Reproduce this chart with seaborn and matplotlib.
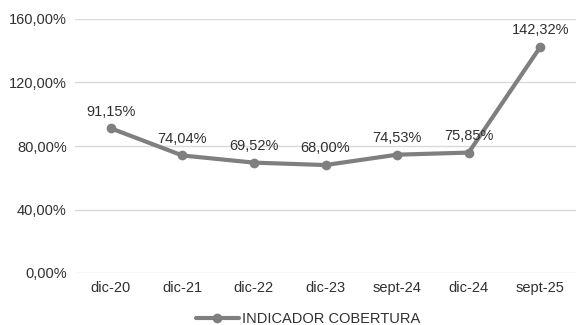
import matplotlib
matplotlib.use("Agg")
import matplotlib.pyplot as plt
import seaborn as sns
import pandas as pd

periodos = ["dic-20", "dic-21", "dic-22", "dic-23", "sept-24", "dic-24", "sept-25"]
cobertura = [91.15, 74.04, 69.52, 68.00, 74.53, 75.85, 142.32]
yticks = [0, 40, 80, 120, 160]

sns.set_theme(style="white")
plt.rcParams["font.family"] = ["Liberation Sans", "DejaVu Sans"]

df = pd.DataFrame({"periodo": periodos, "valor": cobertura, "x": range(len(periodos))})

fig = plt.figure(figsize=(5.82, 3.25), dpi=100)
ax = fig.add_axes([75 / 582, 52 / 325, 501 / 582, 254 / 325])

color = "#7f7f7f"
fs = 10.5
sns.lineplot(data=df, x="x", y="valor", ax=ax, color=color, linewidth=3,
             marker="o", markersize=7, markeredgewidth=0,
             label="INDICADOR COBERTURA")

for xi, v in zip(df["x"], df["valor"]):
    ax.annotate(f"{v:.2f}%".replace(".", ","), (xi, v), xytext=(0, 7),
                textcoords="offset points", ha="center", va="bottom",
                fontsize=fs, color="#303030")

ax.set_xlim(-0.5, len(periodos) - 0.5)
ax.set_ylim(0, 160)
ax.set_yticks(yticks)
ax.set_yticklabels([f"{t:.2f}%".replace(".", ",") for t in yticks])
ax.set_xticks(range(len(periodos)))
ax.set_xticklabels(periodos)
ax.tick_params(axis="both", labelsize=fs, colors="#303030", length=0, pad=6)
ax.yaxis.grid(True, color="#d9d9d9", linewidth=1)
ax.set_axisbelow(True)
for s in ax.spines.values():
    s.set_visible(False)
ax.set_xlabel("")
ax.set_ylabel("")

ax.legend(loc="upper center", bbox_to_anchor=(0.465, -0.115), frameon=False,
          fontsize=fs, handlelength=3, handletextpad=0.2,
          labelcolor="#303030", borderpad=0.2)

fig.savefig("out.png", dpi=100)
